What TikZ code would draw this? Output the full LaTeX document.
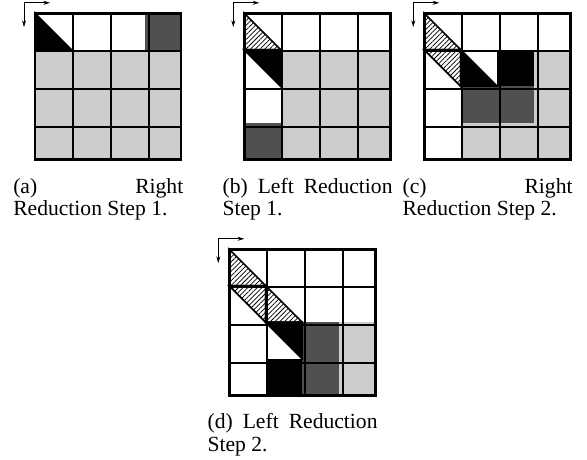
\documentclass[tikz,border=0pt]{standalone}
\usepackage{fontspec}
\setmainfont{Liberation Serif}
\usetikzlibrary{arrows.meta,patterns.meta}
\definecolor{lg}{HTML}{CCCCCC}
\definecolor{dg}{HTML}{505050}
\tikzset{
  gridline/.style={line width=1.3pt},
  border/.style={line width=1.9pt},
  lightcell/.style={fill=lg},
  darkcell/.style={fill=dg},
  blackcell/.style={fill=black},
  hatchcell/.style={pattern={Lines[angle=45,distance=2.5pt,line width=0.55pt]}},
  tri/.style={line width=1.3pt},
  dirarrow/.style={line width=0.6pt,-{Stealth[length=5pt,width=3pt]}},
  caption/.style={font={\fontsize{16.2}{17}\selectfont},anchor=base west,align=left,inner sep=0pt}
}
% cell (col,row): lower-left triangle, upper-right triangle, full square
\newcommand\sqc[3]{\fill[#3] (#1-1,#2-1) rectangle (#1,#2);}
\newcommand\llt[3]{\filldraw[#3,tri] (#1-1,#2-1) -- (#1-1,#2) -- (#1,#2) -- cycle;}
\newcommand\urt[3]{\filldraw[#3,tri] (#1-1,#2-1) -- (#1,#2-1) -- (#1,#2) -- cycle;}
\newcommand\gridframe{\draw[gridline] (0,0) grid (4,4); \draw[border] (0,0) rectangle (4,4);}
\begin{document}
\begin{tikzpicture}[x=0.75pt,y=-0.75pt]
\useasboundingbox (0,0) rectangle (587,460);
% ---------- (a)
\begin{scope}[shift={(35,13.3)},x=27.4pt,y=-27.4pt]
  \foreach \c in {1,...,4}{\foreach \r in {2,3,4}{\sqc{\c}{\r}{lightcell}}}
  \sqc{4}{1}{darkcell}
  \llt{1}{1}{blackcell}
  \gridframe
\end{scope}
\coordinate (a0) at (24,2.8);
\coordinate (ah) at (50,2.8);
\coordinate (av) at (24,27);
\draw[dirarrow] (a0) -- (ah);
\draw[dirarrow] (a0) -- (av);
\node[caption] (capa) at (13,216) {\makebox[127.5pt][s]{(a) Right}\\Reduction Step 1.};
% ---------- (b)
\begin{scope}[shift={(244.3,13.3)},x=27.4pt,y=-27.4pt]
  \foreach \c in {2,3,4}{\foreach \r in {2,3,4}{\sqc{\c}{\r}{lightcell}}}
  \sqc{1}{4}{darkcell}
  \llt{1}{1}{hatchcell}
  \urt{1}{2}{blackcell}
  \gridframe
\end{scope}
\coordinate (b0) at (233.3,2.8);
\coordinate (bh) at (259.3,2.8);
\coordinate (bv) at (233.3,27);
\draw[dirarrow] (b0) -- (bh);
\draw[dirarrow] (b0) -- (bv);
\node[caption] (capb) at (222.3,216) {\makebox[127.5pt][s]{(b) Left Reduction}\\Step 1.};
% ---------- (c)
\begin{scope}[shift={(424.3,13.3)},x=27.4pt,y=-27.4pt]
  \sqc{4}{2}{lightcell}\sqc{4}{3}{lightcell}
  \foreach \c in {2,3,4}{\sqc{\c}{4}{lightcell}}
  \sqc{2}{3}{darkcell}\sqc{3}{3}{darkcell}
  \sqc{3}{2}{blackcell}
  \llt{1}{1}{hatchcell}
  \urt{1}{2}{hatchcell}
  \llt{2}{2}{blackcell}
  \gridframe
\end{scope}
\coordinate (c0) at (413.3,2.8);
\coordinate (ch) at (439.3,2.8);
\coordinate (cv) at (413.3,27);
\draw[dirarrow] (c0) -- (ch);
\draw[dirarrow] (c0) -- (cv);
\node[caption] (capc) at (402.3,216) {\makebox[127.5pt][s]{(c) Right}\\Reduction Step 2.};
% ---------- (d)
\begin{scope}[shift={(229.3,249.3)},x=27.4pt,y=-27.4pt]
  \sqc{4}{3}{lightcell}\sqc{4}{4}{lightcell}
  \sqc{3}{3}{darkcell}\sqc{3}{4}{darkcell}
  \sqc{2}{4}{blackcell}
  \llt{1}{1}{hatchcell}
  \urt{1}{2}{hatchcell}
  \llt{2}{2}{hatchcell}
  \urt{2}{3}{blackcell}
  \gridframe
\end{scope}
\coordinate (d0) at (218.3,238.8);
\coordinate (dh) at (244.3,238.8);
\coordinate (dv) at (218.3,263);
\draw[dirarrow] (d0) -- (dh);
\draw[dirarrow] (d0) -- (dv);
\node[caption] (capd) at (207.3,451.5) {\makebox[127.5pt][s]{(d) Left Reduction}\\Step 2.};
\end{tikzpicture}
\end{document}
